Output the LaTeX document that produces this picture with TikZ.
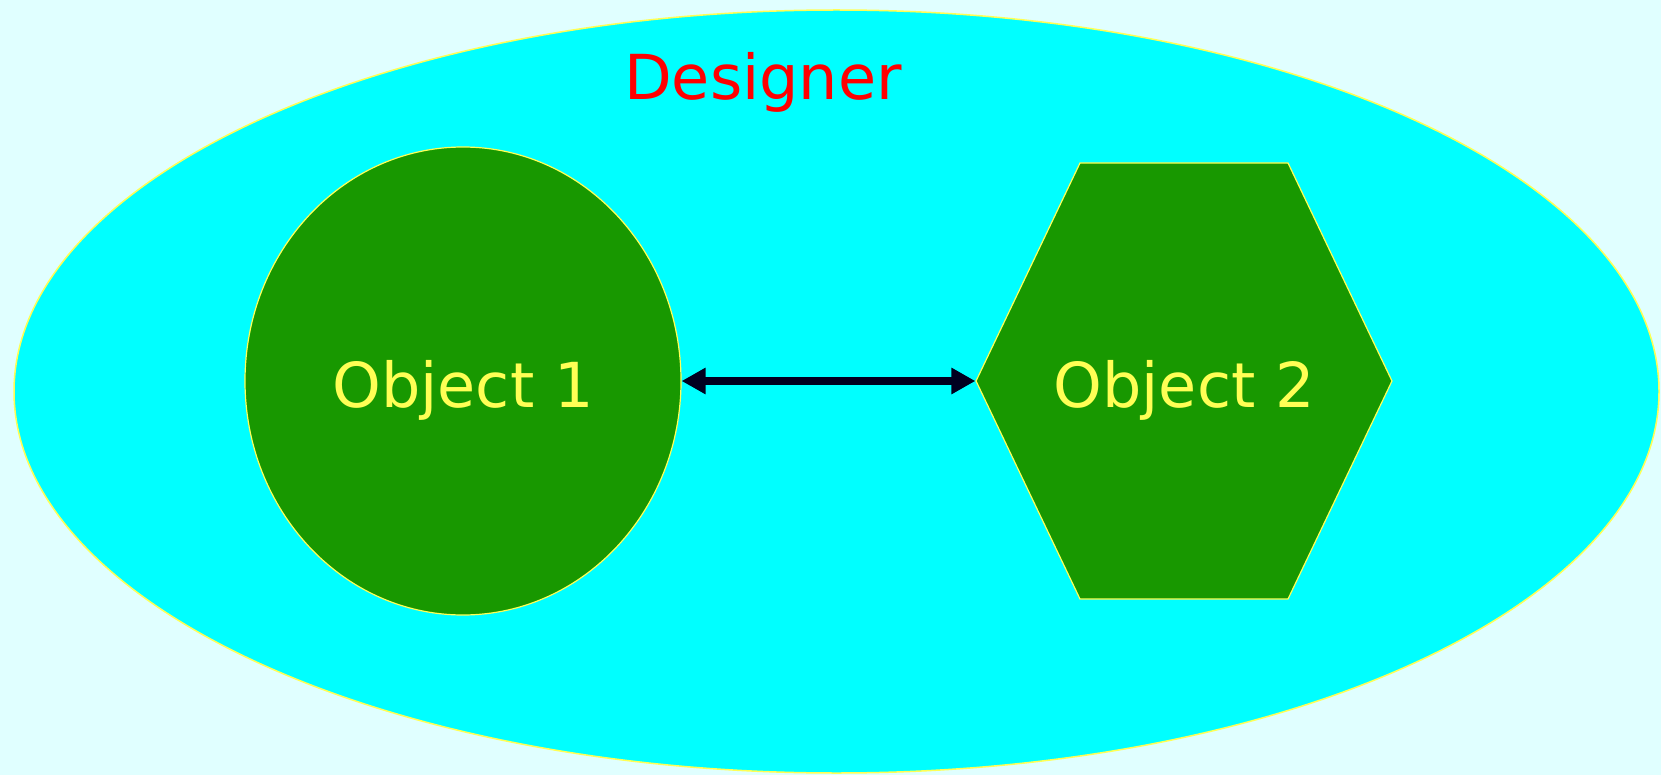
\documentclass[tikz,border=0pt]{standalone}
\usepackage{fontspec}
\setmainfont{DejaVu Sans}
\usetikzlibrary{shapes.geometric,shapes.symbols,arrows.meta}
\definecolor{paleblue}{HTML}{E0FFFF}
\definecolor{aqua}{HTML}{00FFFF}
\definecolor{leaf}{HTML}{189800}
\definecolor{lemon}{HTML}{FFFF55}
\definecolor{ink}{HTML}{000020}
\begin{document}
\begin{tikzpicture}[x=1pt,y=-1pt]
	\tikzset{obj/.style={draw=lemon,fill=leaf,line width=1.2pt,text=lemon,inner sep=0pt,text height=52pt,text depth=0pt,font=\fontsize{62}{62}\selectfont}}
	\fill[paleblue](0,0)rectangle(1661,775);
	\useasboundingbox(0,0)rectangle(1661,775);
	\node(designer)[draw=lemon,line width=1.5pt,fill=aqua,ellipse,inner sep=0pt,minimum width=1645pt,minimum height=763pt]at(836.5,391.5){};
	\node(title)[anchor=base,text=red,font=\fontsize{62}{62}\selectfont]at(763,100){Designer};
	\node(obj1)[obj,ellipse,minimum width=436pt,minimum height=468pt]at(463,381){Object 1};
	\node(obj2)[obj,signal,signal to=east and west,signal pointer angle=129,minimum height=436pt]at(1184,381){\makebox[208pt]{Object 2}};
	\draw[ink,line width=8.5pt,{Triangle[length=24pt,width=25pt]}-{Triangle[length=24pt,width=25pt]}](obj1.east)--(obj2.west);
\end{tikzpicture}
\end{document}
